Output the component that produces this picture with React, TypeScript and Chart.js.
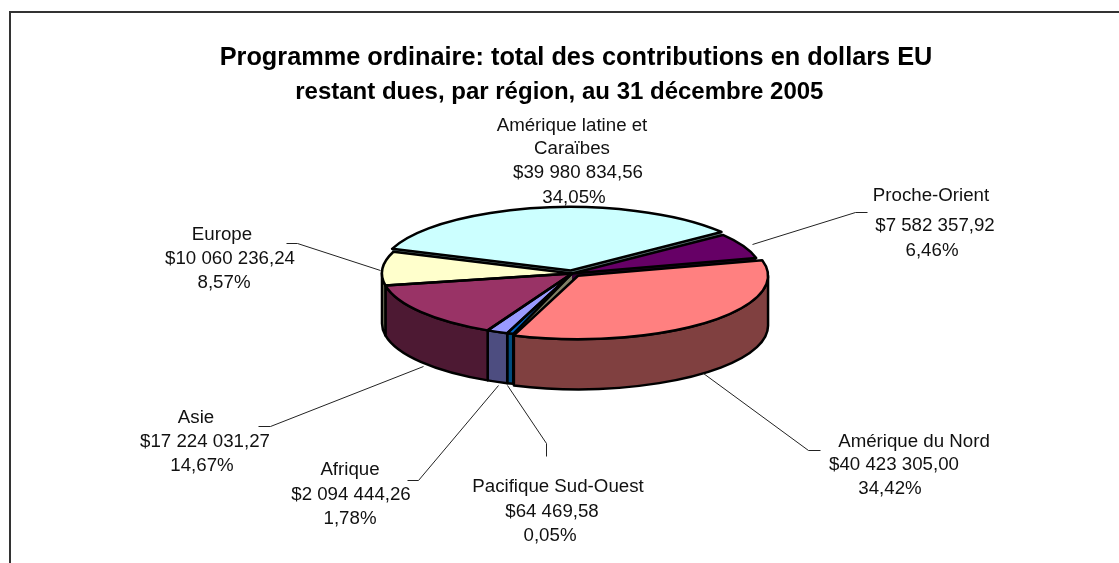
import React, { useEffect, useRef } from "react";
import { Chart, registerables } from "chart.js";

Chart.register(...registerables);

const titleLine = "Programme ordinaire: total des contributions en dollars EU";
const subtitleLine = "restant dues, par région, au 31 décembre 2005\u00a0\u00a0\u00a0\u00a0\u00a0";
const regions = ["Amérique latine et Caraïbes", "Proche-Orient", "Amérique du Nord", "Pacifique Sud-Ouest", "Afrique", "Asie", "Europe"];
const amounts = [39980834.56, 7582357.92, 40423305.0, 64469.58, 2094444.26, 17224031.27, 10060236.24];
const amountLabels = ["$39 980 834,56", "$7 582 357,92", "$40 423 305,00", "$64 469,58", "$2 094 444,26", "$17 224 031,27", "$10 060 236,24"];
const percentLabels = ["34,05%", "6,46%", "34,42%", "0,05%", "1,78%", "14,67%", "8,57%"];
const topColors = ["#CCFFFF", "#660066", "#FF8080", "#0066CC", "#9999FF", "#993366", "#FFFFCC"];
const wallColors = ["#668080", "#330033", "#804040", "#004C80", "#4D4D80", "#4D1933", "#808066"];

// separation of each slice from the centre, in pie units
const sliceShifts = [9, 0, 9, 0, 0, 0, 0];

const SQUASH = 0.334;
const DEPTH = 50;
const PIE_DX = -4;
const OUTLINE = 2.5;
const TAU = Math.PI * 2;

const labelBlocks = [
  { lines: ["Amérique latine et", "Caraïbes"], x: [572, 572, 578, 574], y: [126, 149, 173, 198] },
  { lines: ["Proche-Orient"], x: [931, 935, 932], y: [196, 226, 251] },
  { lines: ["Amérique du Nord"], x: [914, 894, 890], y: [442, 465, 489] },
  { lines: ["Pacifique Sud-Ouest"], x: [558, 552, 550], y: [487, 512, 536] },
  { lines: ["Afrique"], x: [350, 351, 350], y: [470, 495, 519] },
  { lines: ["Asie"], x: [196, 205, 202], y: [418, 442, 466] },
  { lines: ["Europe"], x: [222, 230, 224], y: [235, 259, 283] },
];

const leaders = [
  null,
  [[752, 244], [855, 212], [867, 212]],
  [[703, 373], [808, 450], [820, 450]],
  [[507, 385], [546, 443], [546, 456]],
  [[498, 385], [418, 480], [407, 480]],
  [[423, 366], [270, 426], [258, 426]],
  [[380, 270], [297, 243], [286, 243]],
];

function sliceGeom(el: any, i: number) {
  const p = el.getProps(["x", "y", "startAngle", "endAngle", "outerRadius"], true);
  const off = sliceShifts[i];
  const mid = (p.startAngle + p.endAngle) / 2;
  const thin = p.endAngle - p.startAngle < 0.03;
  return {
    dx: Math.cos(mid) * off,
    dy: Math.sin(mid) * off,
    cx: p.x + PIE_DX + Math.cos(mid) * off,
    cy: p.y + Math.sin(mid) * off * SQUASH,
    r: p.outerRadius,
    // a sliver too narrow to show is widened so that it stays visible, as in the source
    a0: thin ? p.startAngle - 0.03 : p.startAngle,
    a1: p.endAngle,
    thin,
  };
}

function wedgePath(ctx: CanvasRenderingContext2D, g: any) {
  ctx.beginPath();
  ctx.moveTo(g.cx, g.cy);
  ctx.ellipse(g.cx, g.cy, g.r, g.r * SQUASH, 0, g.a0, g.a1);
  ctx.closePath();
}

function drawRadialFaces(ctx: CanvasRenderingContext2D, g: any, color: string) {
  ctx.fillStyle = color;
  for (const a of [g.a0, g.a1]) {
    const ex = g.cx + Math.cos(a) * g.r;
    const ey = g.cy + Math.sin(a) * g.r * SQUASH;
    ctx.beginPath();
    ctx.moveTo(g.cx, g.cy);
    ctx.lineTo(ex, ey);
    ctx.lineTo(ex, ey + DEPTH);
    ctx.lineTo(g.cx, g.cy + DEPTH);
    ctx.closePath();
    ctx.fill();
  }
}

function drawOuterWall(ctx: CanvasRenderingContext2D, g: any, color: string) {
  ctx.fillStyle = color;
  ctx.strokeStyle = "#000";
  ctx.lineWidth = OUTLINE;
  ctx.lineJoin = "round";
  for (let k = -1; k <= 2; k++) {
    const lo = Math.max(g.a0, k * TAU);
    const hi = Math.min(g.a1, k * TAU + Math.PI);
    if (hi <= lo) continue;
    ctx.beginPath();
    ctx.ellipse(g.cx, g.cy, g.r, g.r * SQUASH, 0, lo, hi);
    ctx.ellipse(g.cx, g.cy + DEPTH, g.r, g.r * SQUASH, 0, hi, lo, true);
    ctx.closePath();
    ctx.fill();
    ctx.stroke();
  }
}

const pie3d = {
  id: "pie3d",
  beforeDraw(chart: any) {
    const { ctx, width, height } = chart;
    ctx.save();
    ctx.strokeStyle = "#333";
    ctx.lineWidth = 2;
    ctx.beginPath();
    ctx.moveTo(width, 12);
    ctx.lineTo(10, 12);
    ctx.lineTo(10, height);
    ctx.stroke();
    ctx.restore();
  },
  beforeDatasetDraw(chart: any, args: any) {
    const { ctx, chartArea } = chart;
    const arcs = args.meta.data;
    const geoms = arcs.map((el: any, i: number) => sliceGeom(el, i));

    // walls
    ctx.save();
    geoms.forEach((g: any, i: number) => drawRadialFaces(ctx, g, wallColors[i]));
    geoms.forEach((g: any, i: number) => drawOuterWall(ctx, g, wallColors[i]));
    ctx.restore();

    // top faces, drawn by the library's own arc elements under a squash
    const y = arcs[0].getProps(["y"], true).y;
    arcs.forEach((el: any, i: number) => {
      const g = geoms[i];
      ctx.save();
      ctx.translate(PIE_DX, y);
      ctx.scale(1, SQUASH);
      ctx.translate(g.dx, -y + g.dy);
      el.draw(ctx, chartArea);
      ctx.restore();
    });

    // outlines in screen space
    ctx.save();
    ctx.lineJoin = "round";
    geoms.forEach((g: any, i: number) => {
      if (g.thin) {
        wedgePath(ctx, g);
        ctx.fillStyle = topColors[i];
        ctx.fill();
      }
      wedgePath(ctx, g);
      ctx.strokeStyle = "#000";
      ctx.lineWidth = OUTLINE;
      ctx.stroke();
    });
    ctx.restore();

    // leader lines and labels
    ctx.save();
    ctx.strokeStyle = "#222";
    ctx.lineWidth = 1;
    leaders.forEach((pts) => {
      if (!pts) return;
      ctx.beginPath();
      pts.forEach(([px, py], k) => (k ? ctx.lineTo(px + 0.5, py + 0.5) : ctx.moveTo(px + 0.5, py + 0.5)));
      ctx.stroke();
    });
    ctx.fillStyle = "#111";
    ctx.font = '18.7px "Liberation Sans", Arial, sans-serif';
    ctx.textAlign = "center";
    ctx.textBaseline = "middle";
    labelBlocks.forEach((b, i) => {
      const lines = [...b.lines, amountLabels[i], percentLabels[i]];
      lines.forEach((t, k) => ctx.fillText(t, b.x[k], b.y[k]));
    });
    ctx.restore();
    return false;
  },
};

export default function App() {
  const ref = useRef<HTMLCanvasElement>(null);
  useEffect(() => {
    const chart = new Chart(ref.current!, {
      type: "pie",
      data: {
        labels: regions,
        datasets: [
          {
            data: amounts,
            backgroundColor: topColors,
            borderWidth: 0,
            radius: 190,
          } as any,
        ],
      },
      options: {
        responsive: false,
        animation: false,
        rotation: 290,
        layout: { padding: { left: 33, right: 0, top: 0, bottom: 126 } },
        plugins: {
          legend: { display: false },
          tooltip: { enabled: false },
          title: {
            display: true,
            text: titleLine,
            color: "#000",
            font: { family: '"Liberation Sans", Arial, sans-serif', size: 25.3, weight: "bold", lineHeight: 34 / 25.3 },
            padding: { top: 41, bottom: 0 },
          },
          subtitle: {
            display: true,
            text: subtitleLine,
            color: "#000",
            font: { family: '"Liberation Sans", Arial, sans-serif', size: 24, weight: "bold", lineHeight: 35 / 24 },
            padding: { top: 0, bottom: 0 },
          },
        },
      },
      plugins: [pie3d],
    } as any);
    return () => chart.destroy();
  }, []);
  return (
    <canvas
      ref={ref}
      width={1119}
      height={563}
      style={{ position: "fixed", left: 0, top: 0, width: 1119, height: 563, background: "#fff" }}
    />
  );
}
